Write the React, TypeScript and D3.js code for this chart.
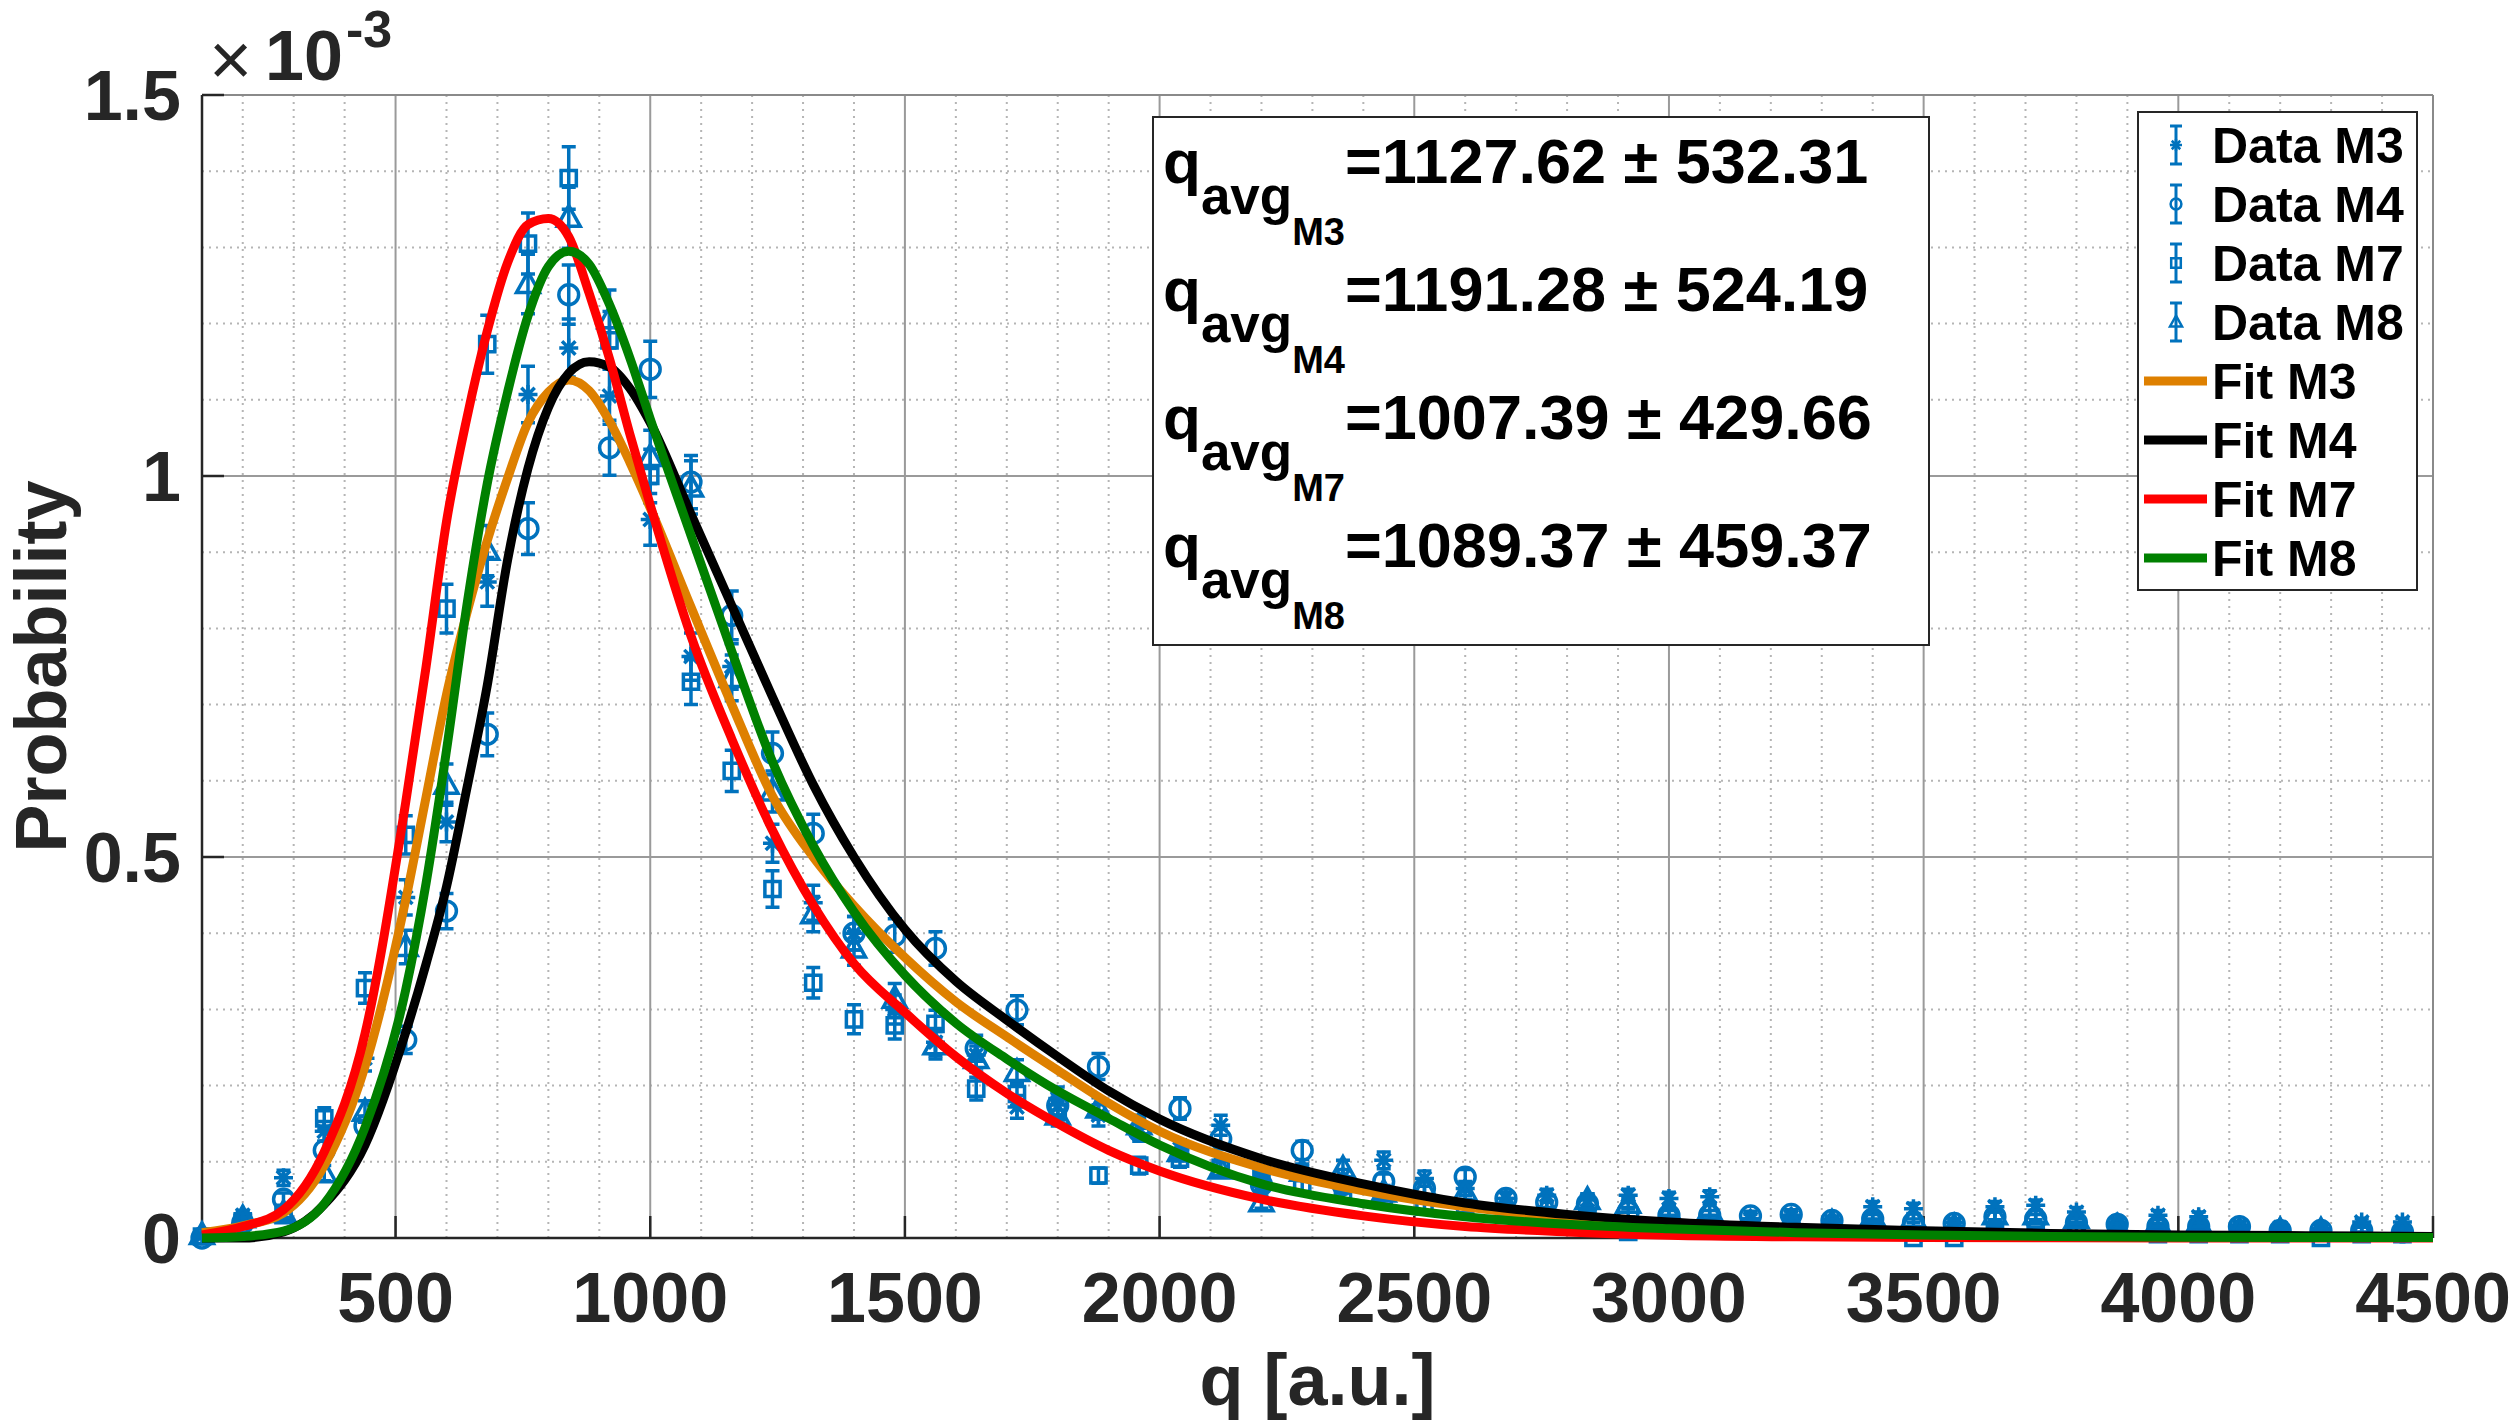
import React, { useEffect, useRef } from 'react';
import * as d3 from 'd3';

// bin centres of the histograms (q, a.u.)
const qBins = [
  120, 200, 280, 360, 440, 520, 600, 680, 760, 840, 920, 1000, 1080, 1160, 1240, 1320, 1400, 1480, 1560,
  1640, 1720, 1800, 1880, 1960, 2040, 2120, 2200, 2280, 2360, 2440, 2520, 2600, 2680, 2760, 2840, 2920,
  3000, 3080, 3160, 3240, 3320, 3400, 3480, 3560, 3640, 3720, 3800, 3880, 3960, 4040, 4120, 4200, 4280,
  4360, 4440
];

// probabilities in units of 1e-3
const dataM3 = [
  0.003, 0.030, 0.079, 0.14, 0.236, 0.447, 0.546, 0.861, 1.107, 1.168, 1.105, 0.943, 0.763, 0.75, 0.518,
  0.44, 0.40, 0.30, 0.257, 0.24, 0.172, 0.183, 0.161, 0.144, 0.117, 0.148, 0.075, 0.085, 0.08, 0.102,
  0.078, 0.065, 0.052, 0.056, 0.05, 0.056, 0.052, 0.054, 0.025, 0.028, 0.022, 0.041, 0.0385, 0.02,
  0.041, 0.043, 0.034, 0.021, 0.030, 0.028, 0.017, 0.014, 0.012, 0.021, 0.021
];
const errM3 = [
  0.002, 0.006, 0.010, 0.013, 0.017, 0.023, 0.026, 0.032, 0.037, 0.038, 0.037, 0.034, 0.031, 0.030, 0.025,
  0.023, 0.022, 0.019, 0.018, 0.017, 0.015, 0.015, 0.014, 0.013, 0.012, 0.013, 0.010, 0.010, 0.010, 0.011,
  0.010, 0.009, 0.008, 0.008, 0.008, 0.008, 0.008, 0.008, 0.006, 0.006, 0.005, 0.007, 0.007, 0.005,
  0.007, 0.007, 0.006, 0.005, 0.006, 0.006, 0.005, 0.004, 0.004, 0.005, 0.005
];
const dataM4 = [
  0.0, 0.020, 0.051, 0.115, 0.147, 0.260, 0.429, 0.661, 0.931, 1.238, 1.037, 1.140, 0.992, 0.817, 0.636,
  0.531, 0.400, 0.397, 0.380, 0.249, 0.299, 0.174, 0.225, 0.14, 0.170, 0.130, 0.07, 0.115, 0.07, 0.074,
  0.065, 0.080, 0.052, 0.047, 0.045, 0.034, 0.03, 0.03, 0.029, 0.031, 0.023, 0.025, 0.02, 0.019, 0.028,
  0.025, 0.02, 0.018, 0.015, 0.015, 0.015, 0.01, 0.01, 0.01, 0.008
];
const errM4 = [
  0.001, 0.005, 0.008, 0.012, 0.013, 0.018, 0.023, 0.028, 0.034, 0.039, 0.036, 0.037, 0.035, 0.032, 0.028,
  0.025, 0.022, 0.022, 0.022, 0.017, 0.019, 0.015, 0.017, 0.013, 0.014, 0.013, 0.009, 0.012, 0.009, 0.010,
  0.009, 0.010, 0.008, 0.008, 0.007, 0.006, 0.006, 0.006, 0.006, 0.006, 0.005, 0.006, 0.005, 0.005, 0.006,
  0.006, 0.005, 0.005, 0.004, 0.004, 0.004, 0.004, 0.004, 0.004, 0.003
];
const dataM7 = [
  0.002, 0.022, 0.030, 0.157, 0.328, 0.529, 0.826, 1.173, 1.305, 1.391, 1.178, 1.0, 0.730, 0.613, 0.458,
  0.335, 0.287, 0.279, 0.281, 0.196, 0.189, 0.165, 0.082, 0.095, 0.104, 0.092, 0.078, 0.07, 0.06, 0.052,
  0.041, 0.04, 0.035, 0.03, 0.025, 0.008, 0.02, 0.02, 0.015, 0.02, 0.015, 0.015, 0.0, 0.0, 0.01, 0.01,
  0.01, 0.01, 0.005, 0.005, 0.005, 0.005, 0.0, 0.005, 0.005
];
const errM7 = [
  0.002, 0.005, 0.006, 0.014, 0.020, 0.025, 0.032, 0.038, 0.040, 0.041, 0.038, 0.035, 0.030, 0.027, 0.024,
  0.020, 0.019, 0.018, 0.018, 0.015, 0.015, 0.014, 0.010, 0.011, 0.011, 0.011, 0.010, 0.009, 0.009, 0.008,
  0.007, 0.007, 0.007, 0.006, 0.006, 0.003, 0.005, 0.005, 0.004, 0.005, 0.004, 0.004, 0.0, 0.0, 0.004,
  0.004, 0.004, 0.004, 0.003, 0.003, 0.003, 0.003, 0.0, 0.003, 0.003
];
const dataM8 = [
  0.004, 0.026, 0.033, 0.085, 0.166, 0.382, 0.595, 0.902, 1.252, 1.339, 1.206, 1.025, 0.985, 0.735, 0.586,
  0.425, 0.380, 0.314, 0.253, 0.235, 0.218, 0.161, 0.170, 0.148, 0.113, 0.090, 0.047, 0.087, 0.091, 0.06,
  0.065, 0.060, 0.045, 0.04, 0.05, 0.045, 0.034, 0.036, 0.02, 0.022, 0.02, 0.028, 0.026, 0.015, 0.03, 0.03,
  0.025, 0.015, 0.02, 0.02, 0.01, 0.01, 0.01, 0.01, 0.01
];
const errM8 = [
  0.002, 0.006, 0.006, 0.010, 0.014, 0.022, 0.027, 0.033, 0.039, 0.040, 0.038, 0.035, 0.035, 0.030, 0.027,
  0.023, 0.022, 0.020, 0.018, 0.017, 0.016, 0.014, 0.014, 0.013, 0.012, 0.010, 0.008, 0.010, 0.011, 0.009,
  0.009, 0.009, 0.007, 0.007, 0.008, 0.007, 0.006, 0.007, 0.005, 0.005, 0.005, 0.006, 0.006, 0.004, 0.006,
  0.006, 0.006, 0.004, 0.005, 0.005, 0.004, 0.004, 0.004, 0.004, 0.004
];

const fitQ = [
  120, 200, 280, 360, 440, 520, 560, 600, 640, 680, 720, 760, 800, 840, 880, 920, 960, 1000, 1080, 1160,
  1240, 1320, 1400, 1500, 1600, 1700, 1800, 1900, 2000, 2200, 2400, 2600, 2800, 3000, 3250, 3500, 3750,
  4000, 4250, 4500
];
const fitM3 = [
  0.007, 0.016, 0.033, 0.095, 0.225, 0.444, 0.579, 0.713, 0.82, 0.915, 0.997, 1.07, 1.11, 1.126, 1.112,
  1.072, 1.018, 0.958, 0.828, 0.70, 0.58, 0.50, 0.436, 0.368, 0.31, 0.264, 0.22, 0.177, 0.14, 0.092,
  0.062, 0.041, 0.027, 0.018, 0.011, 0.007, 0.004, 0.003, 0.002, 0.001
];
const fitM4 = [
  0.0, 0.0, 0.008, 0.044, 0.122, 0.27, 0.36, 0.461, 0.59, 0.725, 0.89, 1.01, 1.09, 1.135, 1.15, 1.143,
  1.115, 1.07, 0.95, 0.83, 0.71, 0.595, 0.5, 0.405, 0.337, 0.286, 0.238, 0.193, 0.156, 0.104, 0.071,
  0.046, 0.031, 0.021, 0.014, 0.0095, 0.006, 0.004, 0.003, 0.002
];
const fitM7 = [
  0.004, 0.015, 0.037, 0.113, 0.268, 0.572, 0.75, 0.94, 1.076, 1.19, 1.28, 1.33, 1.338, 1.314, 1.24,
  1.154, 1.055, 0.962, 0.79, 0.655, 0.535, 0.437, 0.36, 0.296, 0.238, 0.19, 0.15, 0.115, 0.088, 0.051,
  0.029, 0.015, 0.008, 0.0035, 0.0015, 0.0007, 0.0003, 0.0001, 0.0, 0.0
];
const fitM8 = [
  0.0, 0.002, 0.009, 0.045, 0.145, 0.326, 0.466, 0.64, 0.83, 0.99, 1.11, 1.21, 1.275, 1.295, 1.278,
  1.225, 1.155, 1.075, 0.922, 0.77, 0.625, 0.515, 0.428, 0.345, 0.282, 0.235, 0.193, 0.157, 0.122, 0.071,
  0.045, 0.028, 0.018, 0.012, 0.007, 0.004, 0.002, 0.001, 0.0007, 0.0005
];

const xTicks = [500, 1000, 1500, 2000, 2500, 3000, 3500, 4000, 4500];
const yTicks = [0, 0.5, 1, 1.5];
const yTickLabels = ['0', '0.5', '1', '1.5'];

const dataNames = ['Data M3', 'Data M4', 'Data M7', 'Data M8'];
const fitNames = ['Fit M3', 'Fit M4', 'Fit M7', 'Fit M8'];
const fitColors = ['#DE8000', '#000000', '#FF0000', '#008000'];
const markerKinds = ['asterisk', 'circle', 'square', 'triangle'];

const avgSubs = ['M3', 'M4', 'M7', 'M8'];
const avgTexts = ['=1127.62 \u00b1 532.31', '=1191.28 \u00b1 524.19', '=1007.39 \u00b1 429.66', '=1089.37 \u00b1 459.37'];

const BLUE = '#0072BD';
const FONT = '"Liberation Sans", Arial, Helvetica, sans-serif';

const markerPath = (kind: string, s: number) => {
  const h = s / 2;
  if (kind === 'asterisk') {
    const d = h * 0.707;
    return `M${-h},0L${h},0M0,${-h}L0,${h}M${-d},${-d}L${d},${d}M${-d},${d}L${d},${-d}`;
  }
  if (kind === 'square') {
    const a = h * 0.8;
    return `M${-a},${-a}L${a},${-a}L${a},${a}L${-a},${a}Z`;
  }
  if (kind === 'triangle') {
    return `M0,${-h * 1.05}L${h},${h * 0.75}L${-h},${h * 0.75}Z`;
  }
  // circle
  const r = h * 0.9;
  return `M${r},0A${r},${r},0,1,1,${-r},0A${r},${r},0,1,1,${r},0Z`;
};

const App: React.FC = () => {
  const svgRef = useRef<SVGSVGElement>(null);

  useEffect(() => {
    if (!svgRef.current) return;
    const width = 2515;
    const height = 1427;
    const plot = { left: 202, right: 2433, top: 95, bottom: 1238 };

    const svg = d3.select(svgRef.current);
    svg.selectAll('*').remove();
    svg.attr('width', width).attr('height', height);

    svg.append('rect').attr('width', width).attr('height', height).attr('fill', '#ffffff');

    const x = d3.scaleLinear().domain([120, 4500]).range([plot.left, plot.right]);
    const y = d3.scaleLinear().domain([0, 1.5]).range([plot.bottom, plot.top]);

    // minor grid (dotted)
    const minorX = d3.range(200, 4500, 100).filter(v => v % 500 !== 0);
    const minorY = d3.range(1, 15).map(v => v / 10).filter(v => Math.abs(v - 0.5) > 1e-6 && Math.abs(v - 1) > 1e-6);
    const grid = svg.append('g');
    grid.selectAll('.mx').data(minorX).enter().append('line')
      .attr('x1', d => x(d)).attr('x2', d => x(d))
      .attr('y1', plot.top).attr('y2', plot.bottom)
      .attr('stroke', '#b5b5b5').attr('stroke-width', 2).attr('stroke-dasharray', '2,5');
    grid.selectAll('.my').data(minorY).enter().append('line')
      .attr('x1', plot.left).attr('x2', plot.right)
      .attr('y1', d => y(d)).attr('y2', d => y(d))
      .attr('stroke', '#b5b5b5').attr('stroke-width', 2).attr('stroke-dasharray', '2,5');
    // major grid
    grid.selectAll('.gx').data(xTicks).enter().append('line')
      .attr('x1', d => x(d)).attr('x2', d => x(d))
      .attr('y1', plot.top).attr('y2', plot.bottom)
      .attr('stroke', '#9a9a9a').attr('stroke-width', 2);
    grid.selectAll('.gy').data(yTicks).enter().append('line')
      .attr('x1', plot.left).attr('x2', plot.right)
      .attr('y1', d => y(d)).attr('y2', d => y(d))
      .attr('stroke', '#9a9a9a').attr('stroke-width', 2);

    // box
    svg.append('line').attr('x1', plot.left).attr('x2', plot.right).attr('y1', plot.top).attr('y2', plot.top)
      .attr('stroke', '#8a8a8a').attr('stroke-width', 2);
    svg.append('line').attr('x1', plot.right).attr('x2', plot.right).attr('y1', plot.top).attr('y2', plot.bottom)
      .attr('stroke', '#8a8a8a').attr('stroke-width', 2);
    svg.append('line').attr('x1', plot.left).attr('x2', plot.right).attr('y1', plot.bottom).attr('y2', plot.bottom)
      .attr('stroke', '#262626').attr('stroke-width', 2.5);
    svg.append('line').attr('x1', plot.left).attr('x2', plot.left).attr('y1', plot.top).attr('y2', plot.bottom)
      .attr('stroke', '#262626').attr('stroke-width', 2.5);

    // ticks
    svg.selectAll('.tx').data(xTicks).enter().append('line')
      .attr('x1', d => x(d)).attr('x2', d => x(d))
      .attr('y1', plot.bottom).attr('y2', plot.bottom - 22)
      .attr('stroke', '#262626').attr('stroke-width', 2.5);
    svg.selectAll('.ty').data(yTicks).enter().append('line')
      .attr('x1', plot.left).attr('x2', plot.left + 22)
      .attr('y1', d => y(d)).attr('y2', d => y(d))
      .attr('stroke', '#262626').attr('stroke-width', 2.5);

    // tick labels
    svg.selectAll('.lx').data(xTicks).enter().append('text')
      .attr('x', d => x(d)).attr('y', 1322)
      .attr('text-anchor', 'middle')
      .attr('font-family', FONT).attr('font-weight', 'bold').attr('font-size', 70)
      .attr('fill', '#262626')
      .text(d => String(d));
    svg.selectAll('.ly').data(yTicks).enter().append('text')
      .attr('x', 181).attr('y', d => y(d) + 25)
      .attr('text-anchor', 'end')
      .attr('font-family', FONT).attr('font-weight', 'bold').attr('font-size', 70)
      .attr('fill', '#262626')
      .text((d, i) => yTickLabels[i]);

    // exponent
    const expo = svg.append('text').attr('font-family', FONT).attr('fill', '#262626');
    expo.append('tspan').attr('x', 209).attr('y', 85).attr('font-size', 74).text('\u00d7');
    expo.append('tspan').attr('x', 265).attr('y', 80).attr('font-size', 70).attr('font-weight', 'bold').text('10');
    expo.append('tspan').attr('x', 346).attr('y', 47).attr('font-size', 52).attr('font-weight', 'bold').text('-3');

    // axis labels
    svg.append('text')
      .attr('x', (plot.left + plot.right) / 2).attr('y', 1405)
      .attr('text-anchor', 'middle')
      .attr('font-family', FONT).attr('font-weight', 'bold').attr('font-size', 72)
      .attr('fill', '#262626')
      .text('q [a.u.]');
    svg.append('text')
      .attr('transform', `translate(66,${(plot.top + plot.bottom) / 2}) rotate(-90)`)
      .attr('text-anchor', 'middle')
      .attr('font-family', FONT).attr('font-weight', 'bold').attr('font-size', 72)
      .attr('fill', '#262626')
      .text('Probability');

    // data with error bars
    const dataSets = [dataM3, dataM4, dataM7, dataM8];
    const errSets = [errM3, errM4, errM7, errM8];
    const markerSizes = [19, 22, 19, 23];
    dataSets.forEach((vals, si) => {
      const pts = qBins.map((q, i) => ({ q, v: vals[i], e: errSets[si][i] }));
      const g = svg.append('g')
        .attr('stroke', BLUE).attr('fill', 'none').attr('stroke-width', 3.5);
      g.selectAll('.eb').data(pts).enter().append('path')
        .attr('d', d => {
          const cx = x(d.q);
          const y1 = y(d.v - d.e);
          const y2 = y(d.v + d.e);
          return `M${cx},${y1}L${cx},${y2}M${cx - 7},${y1}L${cx + 7},${y1}M${cx - 7},${y2}L${cx + 7},${y2}`;
        });
      g.selectAll('.mk').data(pts).enter().append('path')
        .attr('transform', d => `translate(${x(d.q)},${y(d.v)})`)
        .attr('d', markerPath(markerKinds[si], markerSizes[si]));
    });

    // fitted curves
    const fitSets = [fitM3, fitM4, fitM7, fitM8];
    const line = d3.line<[number, number]>()
      .x(d => x(d[0]))
      .y(d => y(d[1]))
      .curve(d3.curveMonotoneX);
    fitSets.forEach((vals, fi) => {
      svg.append('path')
        .datum(fitQ.map((q, i) => [q, vals[i]] as [number, number]))
        .attr('fill', 'none')
        .attr('stroke', fitColors[fi])
        .attr('stroke-width', 9)
        .attr('stroke-linejoin', 'round')
        .attr('d', line);
    });

    // annotation box with mean values
    svg.append('rect')
      .attr('x', 1153).attr('y', 117).attr('width', 776).attr('height', 528)
      .attr('fill', '#ffffff').attr('stroke', '#262626').attr('stroke-width', 2);
    avgTexts.forEach((t, i) => {
      const base = 183 + i * 128;
      const txt = svg.append('text')
        .attr('x', 1163).attr('y', base)
        .attr('font-family', FONT).attr('font-weight', 'bold').attr('fill', '#000000');
      txt.append('tspan').attr('font-size', 62).text('q');
      txt.append('tspan').attr('font-size', 53).attr('dy', 31).text('avg');
      txt.append('tspan').attr('font-size', 38).attr('dy', 31).text(avgSubs[i]);
      txt.append('tspan').attr('font-size', 63).attr('dy', -62).text(t);
    });

    // legend
    const lg = svg.append('g');
    lg.append('rect')
      .attr('x', 2138).attr('y', 112).attr('width', 279).attr('height', 478)
      .attr('fill', '#ffffff').attr('stroke', '#262626').attr('stroke-width', 2);
    const rowY = (i: number) => 145 + i * 59;
    dataNames.forEach((name, i) => {
      const cy = rowY(i);
      lg.append('path')
        .attr('d', `M2176,${cy - 19}L2176,${cy + 19}M2170,${cy - 19}L2182,${cy - 19}M2170,${cy + 19}L2182,${cy + 19}`)
        .attr('stroke', BLUE).attr('stroke-width', 3).attr('fill', 'none');
      lg.append('path')
        .attr('transform', `translate(2176,${cy})`)
        .attr('d', markerPath(markerKinds[i], 12))
        .attr('stroke', BLUE).attr('stroke-width', 2.5).attr('fill', 'none');
      lg.append('text')
        .attr('x', 2212).attr('y', cy + 18)
        .attr('font-family', FONT).attr('font-weight', 'bold').attr('font-size', 50)
        .attr('fill', '#000000').text(name);
    });
    fitNames.forEach((name, i) => {
      const cy = rowY(i + 4);
      lg.append('line')
        .attr('x1', 2144).attr('x2', 2207).attr('y1', cy).attr('y2', cy)
        .attr('stroke', fitColors[i]).attr('stroke-width', 9);
      lg.append('text')
        .attr('x', 2212).attr('y', cy + 18)
        .attr('font-family', FONT).attr('font-weight', 'bold').attr('font-size', 50)
        .attr('fill', '#000000').text(name);
    });
  }, []);

  return (
    <div style={{ position: 'absolute', left: 0, top: 0 }}>
      <svg ref={svgRef} style={{ display: 'block' }}></svg>
    </div>
  );
};

export default App;
